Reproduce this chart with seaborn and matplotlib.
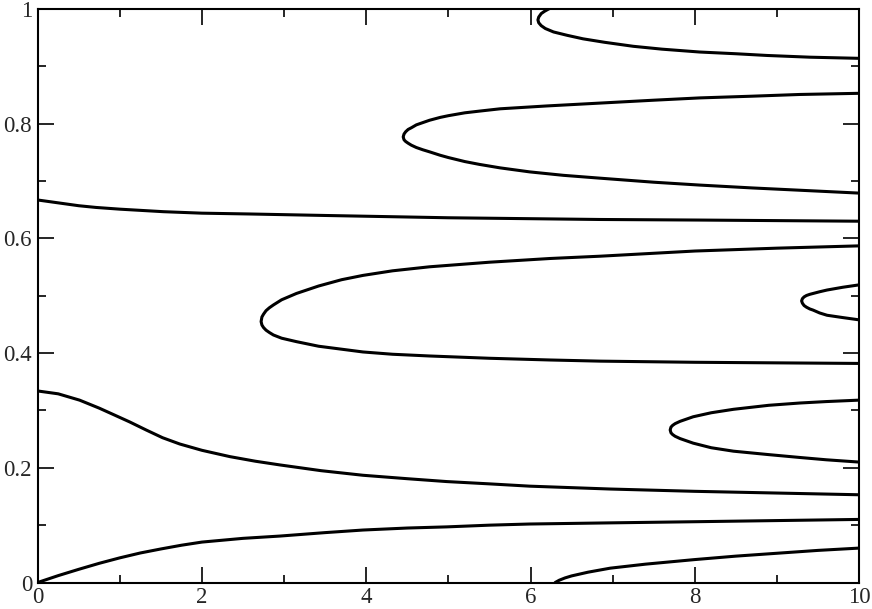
import matplotlib
matplotlib.use('Agg')
import matplotlib.pyplot as plt
import pandas as pd
import seaborn as sns

# branches (folded branches run upper -> tip -> lower)
a_x = [0, 0.25, 0.5, 0.75, 1.0, 1.25, 1.5, 1.75, 2.0, 2.5, 2.95, 3.5, 3.96, 4.5, 4.98, 5.5, 5.99, 6.97, 8.0, 9.0, 10]
a_y = [0, 0.012, 0.023, 0.0335, 0.043, 0.0515, 0.0585, 0.065, 0.0705, 0.077, 0.081, 0.087, 0.0915, 0.095, 0.097, 0.100, 0.102, 0.104, 0.106, 0.108, 0.110]

b_x = [0, 0.25, 0.51, 0.75, 0.92, 1.12, 1.32, 1.52, 1.73, 2.0, 2.34, 2.65, 2.95, 3.45, 3.96, 4.5, 4.98, 5.5, 5.99, 6.97, 8.0, 9.0, 10]
b_y = [0.334, 0.329, 0.318, 0.304, 0.293, 0.280, 0.266, 0.2525, 0.2415, 0.2305, 0.2195, 0.2115, 0.205, 0.195, 0.187, 0.181, 0.176, 0.172, 0.168, 0.163, 0.159, 0.156, 0.153]

c_x = [6.30, 6.35, 6.42, 6.5, 6.7, 6.97, 7.4, 8.0, 8.5, 9.0, 9.5, 10]
c_y = [0, 0.004, 0.008, 0.0115, 0.018, 0.025, 0.032, 0.040, 0.046, 0.051, 0.056, 0.060]

d_x = [6.30, 6.22, 6.17, 6.13, 6.10, 6.09, 6.10, 6.13, 6.18, 6.28, 6.45, 6.64, 6.9, 7.25, 7.6, 8.06, 8.5, 8.88, 9.4, 10]
d_y = [1.005, 1.000, 0.996, 0.992, 0.986, 0.981, 0.976, 0.971, 0.966, 0.960, 0.954, 0.948, 0.942, 0.935, 0.930, 0.925, 0.922, 0.919, 0.916, 0.914]

e_x = [10, 9.28, 8.7, 8.06, 7.5, 6.85, 6.2, 5.63, 5.38, 5.2, 5.0, 4.9, 4.77, 4.69, 4.61, 4.55, 4.51, 4.48, 4.46, 4.45,
       4.46, 4.48, 4.51, 4.55, 4.61, 4.69, 4.77, 4.9, 5.0, 5.2, 5.38, 5.63, 5.99, 6.4, 6.85, 7.5, 8.06, 8.7, 9.28, 10]
e_y = [0.853, 0.851, 0.848, 0.845, 0.841, 0.836, 0.831, 0.826, 0.822, 0.819, 0.814, 0.811, 0.806, 0.802, 0.798, 0.793, 0.790, 0.786, 0.782, 0.777,
       0.772, 0.769, 0.766, 0.7625, 0.7585, 0.7545, 0.751, 0.745, 0.741, 0.734, 0.729, 0.723, 0.716, 0.710, 0.705, 0.698, 0.693, 0.688, 0.684, 0.679]

f_x = [0, 0.25, 0.5, 0.71, 1.0, 1.53, 2.0, 2.58, 3.5, 5.0, 6.85, 8.06, 10]
f_y = [0.667, 0.662, 0.657, 0.654, 0.651, 0.6466, 0.644, 0.6426, 0.640, 0.636, 0.633, 0.632, 0.630]

g_x = [10, 9.0, 8.0, 6.85, 6.24, 5.5, 4.77, 4.32, 3.96, 3.7, 3.42, 3.15, 2.97, 2.87, 2.82, 2.78, 2.75, 2.73, 2.72,
       2.73, 2.75, 2.78, 2.82, 2.87, 2.97, 3.15, 3.42, 3.96, 4.32, 4.77, 5.5, 6.24, 6.85, 8.0, 10]
g_y = [0.587, 0.583, 0.578, 0.569, 0.565, 0.5585, 0.5505, 0.5435, 0.5355, 0.528, 0.517, 0.504, 0.493, 0.484, 0.479, 0.474, 0.468, 0.463, 0.455,
       0.449, 0.4445, 0.440, 0.436, 0.4316, 0.426, 0.420, 0.412, 0.402, 0.398, 0.395, 0.391, 0.388, 0.386, 0.384, 0.382]

h_x = [10, 9.8, 9.61, 9.52, 9.44, 9.40, 9.36, 9.33, 9.31, 9.30, 9.31, 9.33, 9.36, 9.40, 9.44, 9.52, 9.61, 9.8, 10]
h_y = [0.519, 0.5148, 0.510, 0.507, 0.504, 0.5025, 0.5005, 0.498, 0.495, 0.491, 0.487, 0.483, 0.480, 0.477, 0.475, 0.470, 0.466, 0.462, 0.458]

i_x = [10, 9.6, 9.28, 8.9, 8.47, 8.2, 7.98, 7.9, 7.82, 7.76, 7.73, 7.71, 7.70, 7.71, 7.73, 7.76, 7.82, 7.9, 7.98, 8.2, 8.47, 8.9, 9.28, 9.6, 10]
i_y = [0.318, 0.3155, 0.313, 0.309, 0.302, 0.296, 0.289, 0.285, 0.281, 0.277, 0.274, 0.271, 0.266, 0.261, 0.258, 0.255, 0.251, 0.247, 0.243, 0.235, 0.229, 0.223, 0.218, 0.214, 0.210]

x_ticks = [0, 2, 4, 6, 8, 10]
x_labels = ['0', '2', '4', '6', '8', '10']
y_ticks = [0, 0.2, 0.4, 0.6, 0.8, 1]
y_labels = ['0', '0.2', '0.4', '0.6', '0.8', '1']

sns.set_style('ticks')
plt.rcParams['font.family'] = ['Liberation Serif', 'DejaVu Serif']

fig = plt.figure(figsize=(8.72, 6.09), dpi=100)
ax = fig.add_axes([0.0432, 0.0435, 0.942, 0.9417])

branches = [(a_x, a_y), (b_x, b_y), (c_x, c_y), (d_x, d_y), (e_x, e_y),
            (f_x, f_y), (g_x, g_y), (h_x, h_y), (i_x, i_y)]
for bx, by in branches:
    df = pd.DataFrame({'x': bx, 'y': by})
    sns.lineplot(data=df, x='x', y='y', sort=False, estimator=None,
                 color='black', lw=2.2, solid_joinstyle='round', ax=ax)

ax.set_xlim(0, 10)
ax.set_ylim(0, 1)
ax.set_xticks(x_ticks)
ax.set_xticklabels(x_labels)
ax.set_yticks(y_ticks)
ax.set_yticklabels(y_labels)
ax.set_xticks([1, 3, 5, 7, 9], minor=True)
ax.set_yticks([0.1, 0.3, 0.5, 0.7, 0.9], minor=True)
ax.set_xlabel('')
ax.set_ylabel('')

ax.tick_params(which='both', direction='in', top=True, right=True,
               width=1.2, color='black', labelsize=16.5)
ax.tick_params(which='major', length=11.5)
ax.tick_params(which='minor', length=5.8)
ax.tick_params(axis='x', pad=3)
ax.tick_params(axis='y', pad=4)
for sp in ax.spines.values():
    sp.set_linewidth(1.5)
    sp.set_color('black')

fig.savefig('out.png', dpi=100)
